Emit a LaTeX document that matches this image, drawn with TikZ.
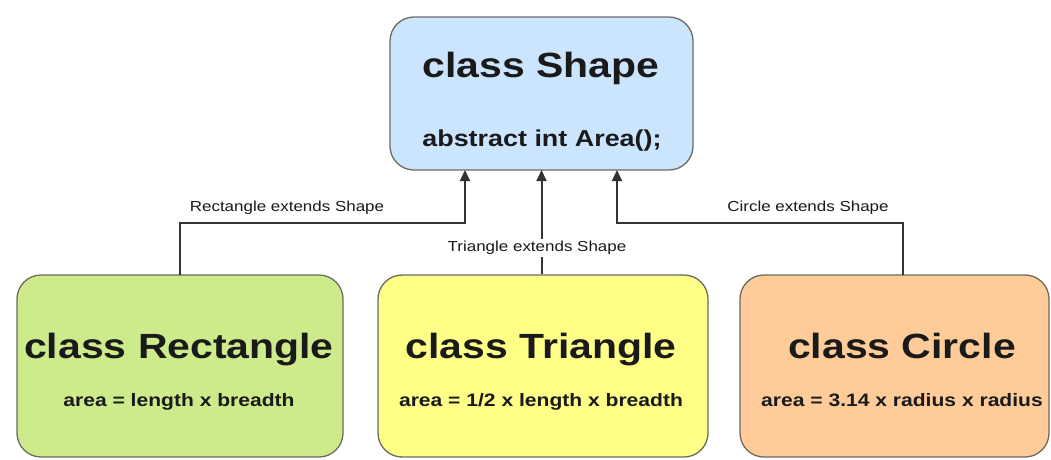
\documentclass[tikz,border=0pt]{standalone}
\usepackage{fontspec}
\setmainfont{Liberation Sans}
\newfontfamily\widefont[FakeStretch=1.17]{Liberation Sans}
\usetikzlibrary{arrows.meta}
\definecolor{cblue}{HTML}{CCE5FF}
\definecolor{cgreen}{HTML}{CDEB8B}
\definecolor{cyellow}{HTML}{FFFF88}
\definecolor{corange}{HTML}{FFCC99}
\definecolor{cborder}{HTML}{6B6B60}
\definecolor{ctext}{HTML}{1A1A1A}
\definecolor{cline}{HTML}{333333}
\begin{document}
\begin{tikzpicture}[x=1pt,y=-1pt,
  box/.style={draw=cborder, line width=1.3pt, rounded corners=24pt, inner sep=0pt},
  title/.style={font=\widefont\bfseries\fontsize{35}{40}\selectfont, text=ctext, inner sep=0pt, anchor=center, text height=26pt, text depth=7pt},
  sub/.style={font=\widefont\bfseries\fontsize{18}{22}\selectfont, text=ctext, inner sep=0pt, anchor=center, text height=13pt, text depth=4pt},
  lbl/.style={font=\widefont\fontsize{14.5}{17}\selectfont, text=ctext, inner sep=2pt, anchor=center},
  conn/.style={draw=cline, line width=2pt, -{Triangle[width=10pt,length=11pt]}}
]
\fill[white] (0,0) rectangle (1051,459);
\useasboundingbox (0,0) rectangle (1051,459);

% boxes
\node[box, fill=cblue, minimum width=303pt, minimum height=153pt] (shape) at (541.5,93.5) {};
\node[box, fill=cgreen, minimum width=326pt, minimum height=182pt] (rect) at (180,366) {};
\node[box, fill=cyellow, minimum width=330pt, minimum height=182pt] (tri) at (543,366) {};
\node[box, fill=corange, minimum width=309pt, minimum height=182pt] (circ) at (894.5,366) {};

% texts
\node[title] (shapeT) at (541,68) {class Shape};
\node[font=\widefont\bfseries\fontsize{23}{27}\selectfont, text=ctext, inner sep=0pt, text height=17pt, text depth=5pt] (shapeS) at (542,140) {abstract int Area();};
\node[title] (rectT) at (179,349) {class Rectangle};
\node[sub] (rectS) at (179,402) {area = length x breadth};
\node[title] (triT) at (541,349) {class Triangle};
\node[sub] (triS) at (541,402) {area = 1/2 x length x breadth};
\node[title] (circT) at (902,349) {class Circle};
\node[sub] (circS) at (902,402) {area = 3.14 x radius x radius};

% connector points
\coordinate (sL) at (465,170);
\coordinate (sM) at (541.5,170);
\coordinate (sR) at (617,170);
\coordinate (hL) at (180,223);
\coordinate (hR) at (903,223);
\coordinate (rectTop) at (180,275);
\coordinate (circTop) at (903,275);

\draw[conn] (rectTop) -- (hL) -| (sL);
\draw[conn] (circTop) -- (hR) -| (sR);
\draw[conn] (tri.north -| sM) -- (sM);

% labels
\node[lbl] (lblR) at (287,208) {Rectangle extends Shape};
\node[lbl] (lblC) at (808,208) {Circle extends Shape};
\node[lbl, fill=white] (lblT) at (537,248) {Triangle extends Shape};
\end{tikzpicture}
\end{document}
